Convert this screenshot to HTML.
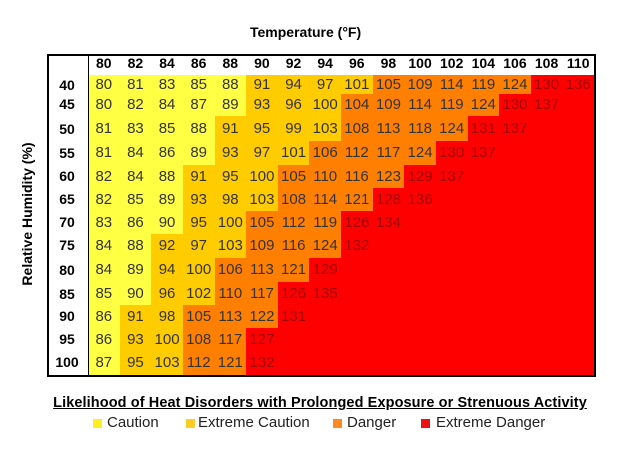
<!DOCTYPE html>
<html><head><meta charset="utf-8"><style>
body{margin:0;width:624px;height:449px;background:#fff;font-family:"Liberation Sans",sans-serif;position:relative;overflow:hidden}
.a{position:absolute}
#box{left:47px;top:54px;width:545px;height:319px;border:2px solid #000}
.r{position:absolute;left:88px;width:506px;display:flex}
.r span{width:31.625px;display:flex;align-items:center;justify-content:center;font-size:15px;color:#333}
.c{background:#ffff44}.e{background:#ffcc00}.d{background:#ff8000}.x{background:#ff0000;color:#a00000!important}
.rl{position:absolute;left:50px;width:34px;text-align:center;font-weight:bold;font-size:14px}
.hd{position:absolute;top:55px;left:88px;width:506px;display:flex;font-weight:bold;font-size:14px}
.hd span{width:31.625px;text-align:center}
.sq{position:absolute;width:9px;height:9px}
.lg{position:absolute;top:414px;font-size:15px;color:#222;white-space:nowrap}
</style></head><body>
<div class="a" style="left:250px;top:24px;font-weight:bold;font-size:14px">Temperature (°F)</div>
<div class="a" style="left:-53px;top:206px;width:160px;text-align:center;transform:rotate(-90deg);font-weight:bold;font-size:14px;white-space:nowrap">Relative Humidity (%)</div>
<div class="a" id="box"></div>
<div class="hd"><span>80</span><span>82</span><span>84</span><span>86</span><span>88</span><span>90</span><span>92</span><span>94</span><span>96</span><span>98</span><span>100</span><span>102</span><span>104</span><span>106</span><span>108</span><span>110</span></div>

<div class="rl" style="top:77px">40</div>
<div class="r" style="top:75px;height:18.5px"><span class="c">80</span><span class="c">81</span><span class="c">83</span><span class="c">85</span><span class="c">88</span><span class="e">91</span><span class="e">94</span><span class="e">97</span><span class="e">101</span><span class="d">105</span><span class="d">109</span><span class="d">114</span><span class="d">119</span><span class="d">124</span><span class="x">130</span><span class="x">136</span></div>
<div class="rl" style="top:96px">45</div>
<div class="r" style="top:93.5px;height:22.5px"><span class="c">80</span><span class="c">82</span><span class="c">84</span><span class="c">87</span><span class="c">89</span><span class="e">93</span><span class="e">96</span><span class="e">100</span><span class="d">104</span><span class="d">109</span><span class="d">114</span><span class="d">119</span><span class="d">124</span><span class="x">130</span><span class="x">137</span><span class="x"></span></div>
<div class="rl" style="top:121px">50</div>
<div class="r" style="top:116px;height:25px"><span class="c">81</span><span class="c">83</span><span class="c">85</span><span class="c">88</span><span class="e">91</span><span class="e">95</span><span class="e">99</span><span class="e">103</span><span class="d">108</span><span class="d">113</span><span class="d">118</span><span class="d">124</span><span class="x">131</span><span class="x">137</span><span class="x"></span><span class="x"></span></div>
<div class="rl" style="top:145px">55</div>
<div class="r" style="top:141px;height:23.5px"><span class="c">81</span><span class="c">84</span><span class="c">86</span><span class="c">89</span><span class="e">93</span><span class="e">97</span><span class="e">101</span><span class="d">106</span><span class="d">112</span><span class="d">117</span><span class="d">124</span><span class="x">130</span><span class="x">137</span><span class="x"></span><span class="x"></span><span class="x"></span></div>
<div class="rl" style="top:168px">60</div>
<div class="r" style="top:164.5px;height:23px"><span class="c">82</span><span class="c">84</span><span class="c">88</span><span class="e">91</span><span class="e">95</span><span class="e">100</span><span class="d">105</span><span class="d">110</span><span class="d">116</span><span class="d">123</span><span class="x">129</span><span class="x">137</span><span class="x"></span><span class="x"></span><span class="x"></span><span class="x"></span></div>
<div class="rl" style="top:191px">65</div>
<div class="r" style="top:187.5px;height:23px"><span class="c">82</span><span class="c">85</span><span class="c">89</span><span class="e">93</span><span class="e">98</span><span class="e">103</span><span class="d">108</span><span class="d">114</span><span class="d">121</span><span class="x">128</span><span class="x">136</span><span class="x"></span><span class="x"></span><span class="x"></span><span class="x"></span><span class="x"></span></div>
<div class="rl" style="top:214px">70</div>
<div class="r" style="top:210.5px;height:23px"><span class="c">83</span><span class="c">86</span><span class="c">90</span><span class="e">95</span><span class="e">100</span><span class="d">105</span><span class="d">112</span><span class="d">119</span><span class="x">126</span><span class="x">134</span><span class="x"></span><span class="x"></span><span class="x"></span><span class="x"></span><span class="x"></span><span class="x"></span></div>
<div class="rl" style="top:237px">75</div>
<div class="r" style="top:233.5px;height:24px"><span class="c">84</span><span class="c">88</span><span class="e">92</span><span class="e">97</span><span class="e">103</span><span class="d">109</span><span class="d">116</span><span class="d">124</span><span class="x">132</span><span class="x"></span><span class="x"></span><span class="x"></span><span class="x"></span><span class="x"></span><span class="x"></span><span class="x"></span></div>
<div class="rl" style="top:262px">80</div>
<div class="r" style="top:257.5px;height:24.5px"><span class="c">84</span><span class="c">89</span><span class="e">94</span><span class="e">100</span><span class="d">106</span><span class="d">113</span><span class="d">121</span><span class="x">129</span><span class="x"></span><span class="x"></span><span class="x"></span><span class="x"></span><span class="x"></span><span class="x"></span><span class="x"></span><span class="x"></span></div>
<div class="rl" style="top:286px">85</div>
<div class="r" style="top:282px;height:23px"><span class="c">85</span><span class="c">90</span><span class="e">96</span><span class="e">102</span><span class="d">110</span><span class="d">117</span><span class="x">126</span><span class="x">135</span><span class="x"></span><span class="x"></span><span class="x"></span><span class="x"></span><span class="x"></span><span class="x"></span><span class="x"></span><span class="x"></span></div>
<div class="rl" style="top:308px">90</div>
<div class="r" style="top:305px;height:22.5px"><span class="c">86</span><span class="e">91</span><span class="e">98</span><span class="d">105</span><span class="d">113</span><span class="d">122</span><span class="x">131</span><span class="x"></span><span class="x"></span><span class="x"></span><span class="x"></span><span class="x"></span><span class="x"></span><span class="x"></span><span class="x"></span><span class="x"></span></div>
<div class="rl" style="top:331px">95</div>
<div class="r" style="top:327.5px;height:23px"><span class="c">86</span><span class="e">93</span><span class="e">100</span><span class="d">108</span><span class="d">117</span><span class="x">127</span><span class="x"></span><span class="x"></span><span class="x"></span><span class="x"></span><span class="x"></span><span class="x"></span><span class="x"></span><span class="x"></span><span class="x"></span><span class="x"></span></div>
<div class="rl" style="top:354px">100</div>
<div class="r" style="top:350.5px;height:24.5px"><span class="c">87</span><span class="e">95</span><span class="e">103</span><span class="d">112</span><span class="d">121</span><span class="x">132</span><span class="x"></span><span class="x"></span><span class="x"></span><span class="x"></span><span class="x"></span><span class="x"></span><span class="x"></span><span class="x"></span><span class="x"></span><span class="x"></span></div>
<div class="a" style="left:88px;top:54px;width:1px;height:321px;background:#000"></div>

<div class="a" style="left:30px;top:395px;width:580px;text-align:center;font-weight:bold;font-size:14.5px;text-decoration:underline;letter-spacing:0.1px;white-space:nowrap">Likelihood of Heat Disorders with Prolonged Exposure or Strenuous Activity</div>
<div class="sq" style="left:93px;top:419px;background:#ffee22"></div><div class="lg" style="left:107px">Caution</div>
<div class="sq" style="left:186px;top:419px;background:#ffcc22"></div><div class="lg" style="left:198px">Extreme Caution</div>
<div class="sq" style="left:333px;top:419px;background:#ff8820"></div><div class="lg" style="left:347px">Danger</div>
<div class="sq" style="left:421px;top:419px;background:#ee1111"></div><div class="lg" style="left:436px">Extreme Danger</div>
</body></html>
